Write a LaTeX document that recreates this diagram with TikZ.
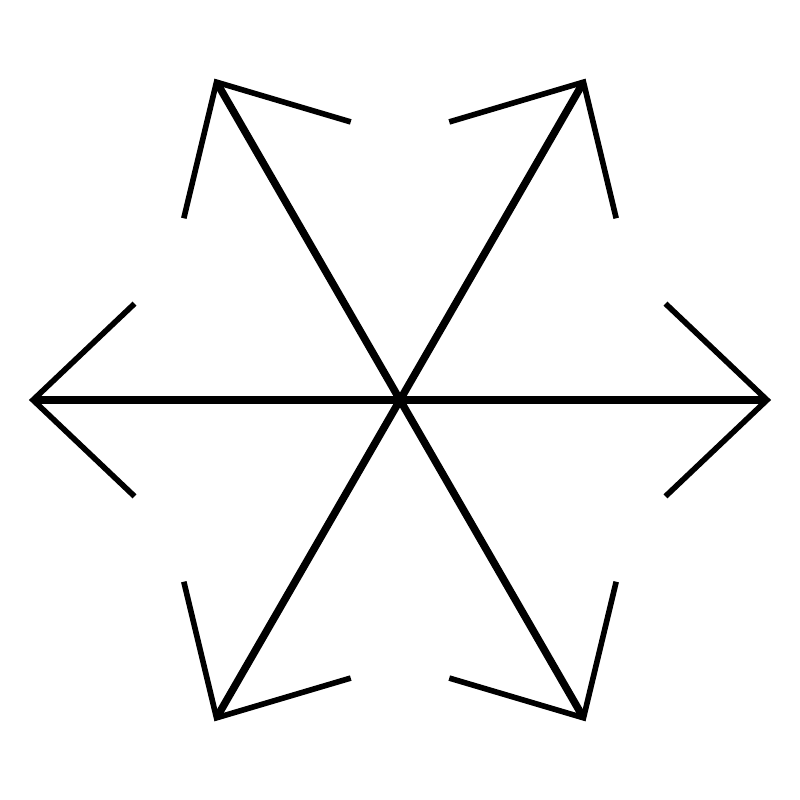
\documentclass[tikz,border=0pt]{standalone}
\usepackage{tikz}
\usetikzlibrary{calc}

\tikzset{shaft/.style={line width=2.15pt}, barb/.style={line width=1.6pt, line join=miter}}

\begin{document}
\begin{tikzpicture}

    \useasboundingbox (-4,-4) rectangle (4,4) ; %

    \coordinate (center) at (0,0) ; %
    \coordinate (east) at (0:3.67) ; %
    \coordinate (northeast) at (60:3.67) ; %
    \coordinate (northwest) at (120:3.67) ; %
    \coordinate (west) at (180:3.67) ; %
    \coordinate (southwest) at (240:3.67) ; %
    \coordinate (southeast) at (300:3.67) ; %

    \coordinate (east_a) at ($ (east) + (136.5:1.4) $) ; %
    \coordinate (east_b) at ($ (east) + (223.5:1.4) $) ; %
    \coordinate (northeast_a) at ($ (northeast) + (196.5:1.4) $) ; %
    \coordinate (northeast_b) at ($ (northeast) + (283.5:1.4) $) ; %
    \coordinate (northwest_a) at ($ (northwest) + (256.5:1.4) $) ; %
    \coordinate (northwest_b) at ($ (northwest) + (343.5:1.4) $) ; %
    \coordinate (west_a) at ($ (west) + (316.5:1.4) $) ; %
    \coordinate (west_b) at ($ (west) + (43.5:1.4) $) ; %
    \coordinate (southwest_a) at ($ (southwest) + (16.5:1.4) $) ; %
    \coordinate (southwest_b) at ($ (southwest) + (103.5:1.4) $) ; %
    \coordinate (southeast_a) at ($ (southeast) + (76.5:1.4) $) ; %
    \coordinate (southeast_b) at ($ (southeast) + (163.5:1.4) $) ; %

    \draw[shaft] (center) -- (east) ; %
    \draw[shaft] (center) -- (northeast) ; %
    \draw[shaft] (center) -- (northwest) ; %
    \draw[shaft] (center) -- (west) ; %
    \draw[shaft] (center) -- (southwest) ; %
    \draw[shaft] (center) -- (southeast) ; %

    \draw[barb] (east_a) -- (east) -- (east_b) ; %
    \draw[barb] (northeast_a) -- (northeast) -- (northeast_b) ; %
    \draw[barb] (northwest_a) -- (northwest) -- (northwest_b) ; %
    \draw[barb] (west_a) -- (west) -- (west_b) ; %
    \draw[barb] (southwest_a) -- (southwest) -- (southwest_b) ; %
    \draw[barb] (southeast_a) -- (southeast) -- (southeast_b) ; %

\end{tikzpicture}
\end{document}
